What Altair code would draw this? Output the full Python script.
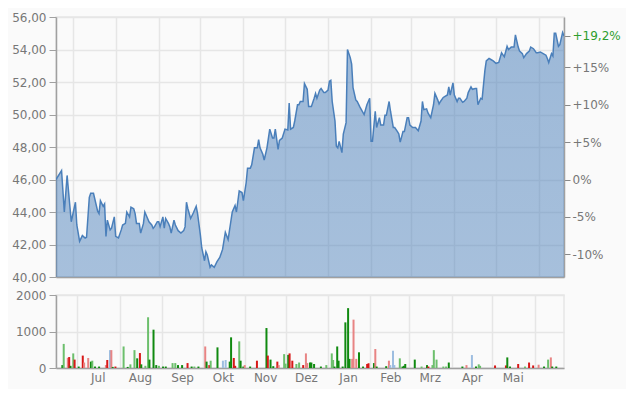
import altair as alt
import pandas as pd

# ---------------- data ----------------
price_dates = [
    "2023-06-19", "2023-06-23", "2023-06-25", "2023-06-27", "2023-06-30", "2023-07-03", "2023-07-04",
    "2023-07-06", "2023-07-08", "2023-07-10", "2023-07-11", "2023-07-13", "2023-07-14", "2023-07-16",
    "2023-07-19", "2023-07-20", "2023-07-21", "2023-07-23", "2023-07-24", "2023-07-25", "2023-07-26",
    "2023-07-28", "2023-07-29", "2023-07-31", "2023-08-01", "2023-08-03", "2023-08-05", "2023-08-06",
    "2023-08-08", "2023-08-09", "2023-08-11", "2023-08-12", "2023-08-14", "2023-08-15", "2023-08-16",
    "2023-08-18", "2023-08-19", "2023-08-21", "2023-08-22", "2023-08-24", "2023-08-25", "2023-08-27",
    "2023-08-28", "2023-08-29", "2023-08-31", "2023-09-01", "2023-09-02", "2023-09-04", "2023-09-05",
    "2023-09-06", "2023-09-08", "2023-09-09", "2023-09-10", "2023-09-12", "2023-09-13", "2023-09-15",
    "2023-09-17", "2023-09-19", "2023-09-20", "2023-09-21", "2023-09-22", "2023-09-24", "2023-09-26",
    "2023-09-28", "2023-09-29", "2023-10-01", "2023-10-02", "2023-10-04", "2023-10-05", "2023-10-06",
    "2023-10-08", "2023-10-09", "2023-10-11", "2023-10-13", "2023-10-15", "2023-10-17", "2023-10-19",
    "2023-10-21", "2023-10-24", "2023-10-26", "2023-10-27", "2023-10-29", "2023-10-31", "2023-11-01",
    "2023-11-03", "2023-11-04", "2023-11-06", "2023-11-07", "2023-11-09", "2023-11-11", "2023-11-12",
    "2023-11-13", "2023-11-15", "2023-11-16", "2023-11-18", "2023-11-20", "2023-11-22", "2023-11-23",
    "2023-11-24", "2023-11-26", "2023-11-27", "2023-11-29", "2023-12-01", "2023-12-03", "2023-12-04",
    "2023-12-05", "2023-12-07", "2023-12-08", "2023-12-10", "2023-12-11", "2023-12-12", "2023-12-14",
    "2023-12-15", "2023-12-17", "2023-12-18", "2023-12-20", "2023-12-22", "2023-12-23", "2023-12-24",
    "2023-12-26", "2023-12-27", "2023-12-29", "2023-12-30", "2024-01-01", "2024-01-02", "2024-01-03",
    "2024-01-04", "2024-01-06", "2024-01-07", "2024-01-08", "2024-01-09", "2024-01-11", "2024-01-12",
    "2024-01-14", "2024-01-15", "2024-01-17", "2024-01-18", "2024-01-19", "2024-01-21", "2024-01-22",
    "2024-01-24", "2024-01-25", "2024-01-27", "2024-01-28", "2024-01-29", "2024-01-31", "2024-02-01",
    "2024-02-02", "2024-02-04", "2024-02-05", "2024-02-07", "2024-02-08", "2024-02-10", "2024-02-11",
    "2024-02-12", "2024-02-14", "2024-02-15", "2024-02-17", "2024-02-18", "2024-02-20", "2024-02-21",
    "2024-02-22", "2024-02-24", "2024-02-25", "2024-02-27", "2024-02-28", "2024-02-29", "2024-03-02",
    "2024-03-04", "2024-03-06", "2024-03-08", "2024-03-09", "2024-03-10", "2024-03-12", "2024-03-13",
    "2024-03-15", "2024-03-17", "2024-03-18", "2024-03-20", "2024-03-21", "2024-03-22", "2024-03-24",
    "2024-03-25", "2024-03-27", "2024-03-28", "2024-03-29", "2024-03-31", "2024-04-01", "2024-04-03",
    "2024-04-04", "2024-04-05", "2024-04-07", "2024-04-08", "2024-04-10", "2024-04-11", "2024-04-13",
    "2024-04-14", "2024-04-16", "2024-04-17", "2024-04-18", "2024-04-20", "2024-04-21", "2024-04-23",
    "2024-04-24", "2024-04-26", "2024-04-27", "2024-04-29", "2024-05-01", "2024-05-03", "2024-05-04",
    "2024-05-05", "2024-05-07", "2024-05-09", "2024-05-10", "2024-05-12", "2024-05-14", "2024-05-15",
    "2024-05-17", "2024-05-18", "2024-05-20", "2024-05-21", "2024-05-23", "2024-05-25", "2024-05-26",
    "2024-05-28", "2024-05-30", "2024-05-31", "2024-06-02", "2024-06-04", "2024-06-06", "2024-06-07",
    "2024-06-08", "2024-06-10", "2024-06-11", "2024-06-12", "2024-06-13", "2024-06-15", "2024-06-16",
    "2024-06-18", "2024-06-19",
]
price_values = [
    46.0, 46.55, 44.0, 46.25, 43.4, 44.6, 43.2,
    42.2, 42.55, 42.4, 42.45, 44.9, 45.15, 45.15,
    44.05, 43.9, 44.7, 44.35, 44.5, 42.5, 43.5,
    42.9, 43.0, 43.7, 42.5, 42.4, 42.9, 43.2,
    43.3, 44.0, 43.7, 44.3, 44.2, 43.9, 43.3,
    43.3, 42.7, 43.3, 44.0, 43.6, 43.4, 43.2,
    43.0, 43.1, 43.4, 43.4, 43.1, 43.7, 43.0,
    43.6, 43.3, 43.1, 42.7, 43.5, 43.2, 42.85,
    42.7, 42.85, 43.1, 44.6, 44.2, 43.6, 43.95,
    44.35, 43.9, 42.6, 41.8, 41.0, 41.55, 41.35,
    40.6, 40.75, 40.6, 40.95, 41.2, 41.7, 42.75,
    42.3, 44.0, 44.4, 44.0, 45.3, 45.2, 44.7,
    45.8, 46.7, 46.7, 46.9, 47.95, 47.95, 48.45,
    47.95, 47.55, 47.2, 47.95, 49.1, 48.55, 48.55,
    49.1, 47.85, 48.4, 48.55, 49.1, 49.05, 50.7,
    49.1, 49.2, 49.6, 50.6, 50.6, 50.8, 50.8,
    51.9, 51.55, 50.5, 50.5, 51.0, 51.3, 51.0,
    51.5, 51.6, 51.35, 51.35, 51.5, 52.05, 52.1,
    50.8, 49.6, 48.05, 47.95, 48.35, 47.65, 48.8,
    49.5, 54.0, 53.5, 53.1, 51.65, 50.9, 50.8,
    50.45, 50.3, 50.0, 50.3, 50.6, 51.0, 48.35,
    48.35, 50.2, 49.2, 49.8, 49.35, 49.35, 49.95,
    49.95, 50.8, 50.2, 49.2, 49.2, 48.95, 48.8,
    48.3, 48.95, 48.95, 49.8, 49.8, 49.35, 49.2,
    49.2, 49.0, 49.6, 50.8, 50.3, 50.35, 50.1,
    49.8, 50.6, 51.3, 50.9, 50.65, 50.8, 51.05,
    51.1, 51.2, 51.7, 51.2, 51.95, 51.2, 50.8,
    51.0, 51.0, 50.75, 50.8, 51.0, 51.35, 51.7,
    51.55, 51.6, 51.6, 50.6, 51.0, 50.95, 52.7,
    53.3, 53.45, 53.4, 53.3, 53.15, 53.2, 53.5,
    53.8, 53.55, 54.2, 54.0, 54.15, 54.15, 54.9,
    54.15, 53.9, 53.75, 53.5, 53.75, 53.9, 54.15,
    54.05, 53.8, 53.8, 53.85, 53.75, 53.65, 53.45,
    53.2, 53.75, 53.6, 55.0, 55.0, 54.2, 54.3,
    55.05, 54.83,
]

vol_dates = [
    "2023-06-20", "2023-06-21", "2023-06-24", "2023-06-25", "2023-06-26", "2023-06-28", "2023-06-29",
    "2023-07-02", "2023-07-05", "2023-07-06", "2023-07-09", "2023-07-11", "2023-07-12", "2023-07-14",
    "2023-07-17", "2023-07-22", "2023-07-23", "2023-07-25", "2023-07-26", "2023-07-27", "2023-07-29",
    "2023-08-04", "2023-08-07", "2023-08-09", "2023-08-12", "2023-08-14", "2023-08-16", "2023-08-17",
    "2023-08-20", "2023-08-22", "2023-08-23", "2023-08-26", "2023-08-28", "2023-08-30", "2023-09-02",
    "2023-09-04", "2023-09-09", "2023-09-11", "2023-09-13", "2023-09-16", "2023-09-20", "2023-09-23",
    "2023-09-25", "2023-09-28", "2023-10-03", "2023-10-04", "2023-10-06", "2023-10-07", "2023-10-12",
    "2023-10-16", "2023-10-18", "2023-10-21", "2023-10-22", "2023-10-24", "2023-10-25", "2023-10-28",
    "2023-10-29", "2023-10-31", "2023-11-01", "2023-11-05", "2023-11-10", "2023-11-17", "2023-11-18",
    "2023-11-20", "2023-11-22", "2023-11-25", "2023-11-26", "2023-11-30", "2023-12-01", "2023-12-03",
    "2023-12-04", "2023-12-06", "2023-12-09", "2023-12-11", "2023-12-14", "2023-12-16", "2023-12-17",
    "2023-12-19", "2023-12-20", "2023-12-22", "2023-12-27", "2023-12-31", "2024-01-04", "2024-01-05",
    "2024-01-06", "2024-01-08", "2024-01-09", "2024-01-12", "2024-01-14", "2024-01-16", "2024-01-17",
    "2024-01-19", "2024-01-20", "2024-01-22", "2024-01-24", "2024-01-27", "2024-01-30", "2024-01-31",
    "2024-02-04", "2024-02-05", "2024-02-06", "2024-02-13", "2024-02-15", "2024-02-16", "2024-02-18",
    "2024-02-19", "2024-02-23", "2024-02-25", "2024-02-26", "2024-02-27", "2024-03-05", "2024-03-10",
    "2024-03-14", "2024-03-15", "2024-03-18", "2024-03-19", "2024-03-21", "2024-03-26", "2024-03-28",
    "2024-03-30", "2024-04-09", "2024-04-12", "2024-04-16", "2024-04-19", "2024-04-21", "2024-04-22",
    "2024-05-03", "2024-05-11", "2024-05-12", "2024-05-14", "2024-05-20", "2024-05-25", "2024-05-28",
    "2024-05-31", "2024-06-04", "2024-06-08", "2024-06-11", "2024-06-13", "2024-06-14", "2024-06-17",
]
vol_values = [
    80, 660, 280, 300, 60, 400, 230,
    40, 340, 150, 275, 175, 200, 40,
    40, 80, 220, 490, 490, 30, 40,
    590, 30, 100, 490, 265, 410, 100,
    60, 1390, 230, 1050, 80, 60, 40,
    40, 135, 135, 80, 80, 135, 40,
    40, 40, 590, 175, 80, 200, 565,
    200, 220, 175, 840, 275, 60, 730,
    200, 40, 80, 40, 200, 1095, 340,
    230, 50, 175, 80, 380, 120, 360,
    400, 200, 110, 150, 80, 400, 135,
    150, 150, 110, 40, 80, 400, 220,
    40, 590, 200, 40, 1250, 1640, 250,
    250, 1325, 250, 430, 40, 110, 130,
    135, 520, 40, 50, 200, 80, 475,
    80, 265, 40, 60, 110, 230, 40,
    80, 40, 80, 490, 230, 40, 40,
    150, 40, 80, 355, 40, 100, 60,
    70, 70, 290, 40, 110, 40, 150,
    70, 90, 40, 230, 290, 40, 40,
]
vol_kinds = [
    "dg", "lg", "lr", "r", "dg", "lg", "r",
    "dg", "r", "lr", "lr", "dg", "lg", "dg",
    "dg", "lr", "r", "lb", "lr", "dg", "r",
    "lg", "dg", "lg", "lg", "dg", "r", "dg",
    "lg", "lg", "dg", "dg", "dg", "lg", "dg",
    "dg", "lg", "lg", "dg", "dg", "r", "dg",
    "lg", "dg", "lr", "dg", "r", "lg", "dg",
    "lb", "lb", "dg", "dg", "r", "r", "lg",
    "dg", "dg", "lr", "dg", "r", "dg", "r",
    "dg", "dg", "r", "lr", "lg", "lg", "dg",
    "r", "r", "lg", "lg", "r", "lr", "lr",
    "dg", "dg", "dg", "dg", "lg", "lg", "lg",
    "dg", "dg", "dg", "dg", "dg", "dg", "dg",
    "lr", "lr", "lr", "dg", "dg", "r", "r",
    "dg", "lr", "dg", "dg", "lr", "lb", "lb",
    "lb", "lg", "dg", "dg", "dg", "dg", "lg",
    "dg", "r", "lg", "lg", "lg", "lg", "lg",
    "dg", "dg", "lr", "lb", "dg", "lg", "lg",
    "r", "r", "dg", "dg", "r", "lg", "r",
    "r", "lr", "dg", "lg", "lr", "dg", "dg",
]
kind_names = ["dg", "lg", "r", "lr", "lb"]
kind_colors = ["#108a10", "#6cbf6c", "#d81818", "#e88484", "#9dbde0"]

BASE_PRICE = 46.0       # price at the 0% line of the right axis
LAST_CHANGE = 19.2      # percent change shown at the right

price_ticks = [40, 42, 44, 46, 48, 50, 52, 54, 56]
pct_ticks = [-10, -5, 0, 5, 10, 15]
vol_ticks = [0, 1000, 2000]
month_starts = [(2023, m) for m in range(7, 13)] + [(2024, m) for m in range(1, 7)]
month_label_months = [(2023, m) for m in range(7, 13)] + [(2024, m) for m in range(1, 6)]
month_names = ["Jan", "Feb", "Mrz", "Apr", "Mai", "Jun", "Jul", "Aug", "Sep", "Okt", "Nov", "Dez"]

# ---------------- chart ----------------
price_df = pd.DataFrame({"date": price_dates, "price": price_values})
vol_df = pd.DataFrame({"date": vol_dates, "vol": vol_values, "kind": vol_kinds})

FONT = "DejaVu Sans"
LABEL = "#777777"
AXISLINE = "#a0a0a0"
GRID = "#e6e6e6"

x_domain = [alt.DateTime(year=2023, month=6, date=19, utc=True),
            alt.DateTime(year=2024, month=6, date=19, utc=True)]
x_scale = alt.Scale(domain=x_domain)
grid_vals = [alt.DateTime(year=y, month=m, date=1, utc=True) for y, m in month_starts]
label_vals = [alt.DateTime(year=y, month=m, date=16, utc=True) for y, m in month_label_months]
names_js = "[" + ",".join("'%s'" % n for n in month_names) + "]"
grid_cond = {"condition": {"test": "utcdate(datum.value) == 1", "value": 1}, "value": 0}

x_axis_top = alt.Axis(values=grid_vals, labels=False, ticks=False, domain=True,
                      domainColor=AXISLINE, domainWidth=1.5, grid=True, gridColor=GRID,
                      gridWidth=1.5, title=None)
x_axis_bottom = alt.Axis(values=grid_vals + label_vals,
                         labelExpr="utcdate(datum.value) == 16 ? " + names_js + "[utcmonth(datum.value)] : ''",
                         ticks=False, domain=True, domainColor=AXISLINE, domainWidth=1.5,
                         grid=True, gridColor=GRID, gridWidth=1.5, gridOpacity=grid_cond,
                         labelColor=LABEL, labelFont=FONT, labelFontSize=12, labelPadding=4,
                         title=None)

y_left = alt.Axis(values=price_ticks,
                  labelExpr="replace(format(datum.value, '.2f'), '.', ',')",
                  grid=True, gridColor=GRID, gridWidth=1.5, tickSize=7, tickColor=AXISLINE,
                  domainColor=AXISLINE, domainWidth=1.5, labelColor=LABEL, labelFont=FONT,
                  labelFontSize=12, labelPadding=3, title=None)

pct_min = (price_ticks[0] / BASE_PRICE - 1) * 100
pct_max = (price_ticks[-1] / BASE_PRICE - 1) * 100
last_lbl = "+" + str(LAST_CHANGE).replace(".", ",") + "%"
y_right = alt.Axis(orient="right", values=pct_ticks + [LAST_CHANGE],
                   labelExpr=("abs(datum.value - %s) < 0.01 ? '%s' : "
                              "(datum.value > 0 ? '+' + datum.value + '%%' : datum.value + '%%')")
                   % (LAST_CHANGE, last_lbl),
                   labelColor={"condition": {"test": "abs(datum.value - %s) < 0.01" % LAST_CHANGE,
                                             "value": "#2e9e2e"}, "value": LABEL},
                   grid=False, tickSize=6, tickColor="#888888", domainColor=AXISLINE,
                   domainWidth=1.5, labelFont=FONT, labelFontSize=12, labelPadding=2, title=None)

gradient = alt.Gradient(
    gradient="linear", x1=0, y1=0, x2=0, y2=1,
    stops=[alt.GradientStop(color="rgba(74,127,186,0.53)", offset=0),
           alt.GradientStop(color="rgba(74,127,186,0.33)", offset=1)],
)

base = alt.Chart(price_df)
x_enc = alt.X("date:T", scale=x_scale, axis=x_axis_top)
y_enc = alt.Y("price:Q", scale=alt.Scale(domain=[price_ticks[0], price_ticks[-1]], nice=False, zero=False),
              axis=y_left)

area = base.mark_area(color=gradient, clip=True).encode(x=x_enc, y=y_enc)
line = base.mark_line(color="#4a7fba", strokeWidth=1.5, clip=True).encode(x=x_enc, y=y_enc)
right = base.transform_calculate(
    pct="(datum.price / %s - 1) * 100" % BASE_PRICE
).mark_line(opacity=0).encode(
    x=x_enc,
    y=alt.Y("pct:Q", scale=alt.Scale(domain=[pct_min, pct_max], nice=False, zero=False), axis=y_right),
)

price_chart = alt.layer(alt.layer(area, line), right).resolve_scale(y="independent").properties(
    width=508, height=260)

vol_chart = alt.Chart(vol_df).mark_bar(size=2).encode(
    x=alt.X("date:T", scale=x_scale, axis=x_axis_bottom),
    y=alt.Y("vol:Q", scale=alt.Scale(domain=[0, 2000], nice=False),
            axis=alt.Axis(values=vol_ticks, format="d", grid=True, gridColor=GRID, gridWidth=1.5,
                          tickSize=7, tickColor=AXISLINE, domainColor=AXISLINE, domainWidth=1.5,
                          labelColor=LABEL, labelFont=FONT, labelFontSize=12, labelPadding=3,
                          title=None)),
    color=alt.Color("kind:N", scale=alt.Scale(domain=kind_names, range=kind_colors), legend=None),
).properties(width=508, height=73)

chart = alt.vconcat(price_chart, vol_chart, spacing=4).properties(
    background="#fafafa",
    padding={"left": 2, "top": 2, "right": 5, "bottom": 5},
).configure_view(stroke=GRID, strokeWidth=1.5)

chart.save("out.html", embed_options={"renderer": "svg", "actions": False})
